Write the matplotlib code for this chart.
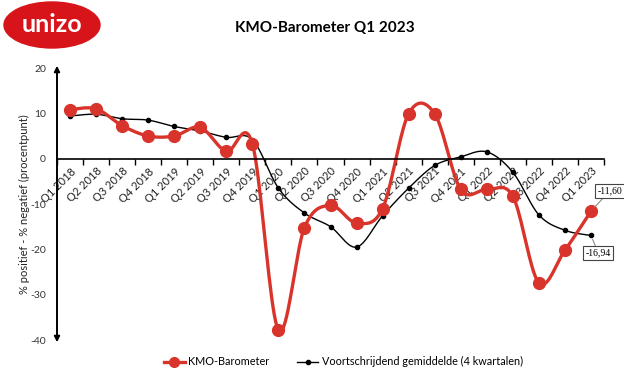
import numpy as np
import matplotlib
matplotlib.use('Agg')
import matplotlib.pyplot as plt
from matplotlib.patches import Ellipse

plt.rcParams['font.family'] = ['Lato', 'DejaVu Sans']

quarters = ['Q1 2018', 'Q2 2018', 'Q3 2018', 'Q4 2018', 'Q1 2019', 'Q2 2019', 'Q3 2019',
            'Q4 2019', 'Q1 2020', 'Q2 2020', 'Q3 2020', 'Q4 2020', 'Q1 2021', 'Q2 2021',
            'Q3 2021', 'Q4 2021', 'Q1 2022', 'Q2 2022', 'Q3 2022', 'Q4 2022', 'Q1 2023']
barometer = [10.8, 11.0, 7.3, 5.0, 5.0, 6.9, 1.6, 3.3, -37.8, -15.2, -10.3, -14.2,
             -11.0, 9.9, 9.9, -6.8, -6.8, -8.3, -27.4, -20.2, -11.60]
moving_avg = [9.4, 9.8, 8.8, 8.5, 7.1, 6.1, 4.7, 4.2, -6.5, -12.0, -15.0, -19.5,
              -12.6, -6.5, -1.5, 0.4, 1.5, -3.0, -12.4, -15.8, -16.94]
yticks = [20, 10, 0, -10, -20, -30, -40]


def smooth(y, n=20):
    # excel-like "smoothed line": bezier segments through the points
    y = np.asarray(y, float)
    x = np.arange(len(y), dtype=float)
    px = np.concatenate([[x[0]], x, [x[-1]]])
    py = np.concatenate([[y[0]], y, [y[-1]]])
    xs, ys = [], []
    t = np.linspace(0, 1, n)
    b = lambda a, b1, b2, c: (1-t)**3*a + 3*(1-t)**2*t*b1 + 3*(1-t)*t**2*b2 + t**3*c
    for i in range(1, len(px) - 2):
        p0, p1, p2, p3 = py[i-1], py[i], py[i+1], py[i+2]
        q0, q1, q2, q3 = px[i-1], px[i], px[i+1], px[i+2]
        c1y = p1 + (p2 - p0) / 6
        c2y = p2 - (p3 - p1) / 6
        c1x = q1 + (q2 - q0) / 6
        c2x = q2 - (q3 - q1) / 6
        xs.append(b(q1, c1x, c2x, q2))
        ys.append(b(p1, c1y, c2y, p2))
    return np.concatenate(xs), np.concatenate(ys)


fig = plt.figure(figsize=(6.24, 3.70), dpi=100)
ax = fig.add_axes([57/624, 1-340/370, (604-57)/624, (340-68)/370])

idx = np.arange(len(quarters))
sx, sy = smooth(moving_avg)
ax.plot(sx, sy, color='black', lw=1, zorder=2)
ax.plot(idx, moving_avg, 'o', color='black', ms=3, zorder=2)
sx, sy = smooth(barometer)
ax.plot(sx, sy, color='#d9342b', lw=2.4, zorder=2.2)
ax.plot(idx, barometer, 'o', color='#d9342b', ms=8.5, zorder=2.2)

ax.set_xlim(-0.5, 20.5)
ax.set_ylim(-40, 20)
for s in ['top', 'right', 'left']:
    ax.spines[s].set_visible(False)
ax.spines['bottom'].set_position(('data', 0))
ax.spines['bottom'].set_linewidth(1.2)
ax.set_xticks(idx)
ax.set_xticklabels(quarters, rotation=45, ha='right', rotation_mode='anchor',
                   fontsize=8, color='#222222')
ax.set_xticks(np.arange(-0.5, 21, 1), minor=True)
ax.tick_params(axis='x', which='major', length=0, pad=5)
ax.tick_params(axis='x', which='minor', length=4, width=1)
ax.set_yticks(yticks)
ax.set_yticklabels([str(v) for v in yticks], fontsize=7.5, color='#333333')
ax.tick_params(axis='y', length=0, pad=8)
ax.annotate('', xy=(-0.5, 20.5), xytext=(-0.5, -40.5),
            arrowprops=dict(arrowstyle='<|-|>', color='black', lw=1.4,
                            mutation_scale=8, shrinkA=0, shrinkB=0),
            annotation_clip=False)
ax.set_ylabel('% positief - % negatief (procentpunt)', fontsize=8, labelpad=0,
              color='#222222')

ax.annotate('-11,60', xy=(20, barometer[-1]), xytext=(20.25, -7.6), fontsize=7,
            family=['Liberation Serif'],
            bbox=dict(boxstyle='square,pad=0.25', fc='white', ec='#444444', lw=0.8),
            arrowprops=dict(arrowstyle='-', color='#888888', lw=0.8, shrinkA=0, shrinkB=4),
            annotation_clip=False)
ax.annotate('-16,94', xy=(20, moving_avg[-1]), xytext=(19.8, -21.4), fontsize=7,
            family=['Liberation Serif'],
            bbox=dict(boxstyle='square,pad=0.25', fc='white', ec='#444444', lw=0.8),
            arrowprops=dict(arrowstyle='-', color='#888888', lw=0.8, shrinkA=0, shrinkB=3),
            annotation_clip=False)

fig.text(0.52, 0.925, 'KMO-Barometer Q1 2023', ha='center', va='center',
         fontsize=11, fontweight='bold')

# logo
lax = fig.add_axes([0, 1-52/370, 105/624, 52/370])
lax.set_xlim(0, 105)
lax.set_ylim(0, 52)
lax.axis('off')
lax.add_patch(Ellipse((52, 27), 96, 46, color='#d7141a'))
lax.text(52, 28, 'unizo', color='white', fontsize=18, fontweight='bold',
         ha='center', va='center')

h1, = ax.plot([], [], '-o', color='#d9342b', lw=2.4, ms=7)
h2, = ax.plot([], [], '-o', color='black', lw=1, ms=3)
fig.legend([h1, h2], ['KMO-Barometer', 'Voortschrijdend gemiddelde (4 kwartalen)'],
           loc='center', bbox_to_anchor=(0.55, 0.022), ncol=2, frameon=False,
           fontsize=7.8, handlelength=2, columnspacing=2.5, handletextpad=0.3)

fig.savefig('out.png', dpi=100)
